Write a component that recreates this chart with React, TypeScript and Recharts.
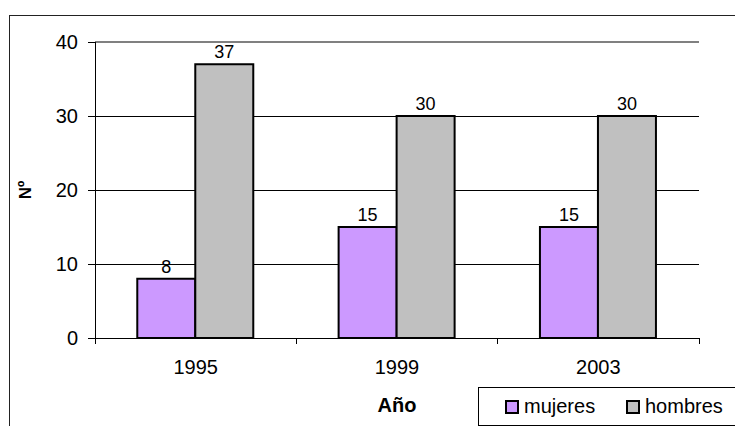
import React from 'react';
import {
  BarChart,
  Bar,
  XAxis,
  YAxis,
  CartesianGrid,
  ReferenceLine,
  LabelList,
  Legend,
  Label,
} from 'recharts';

const years = ['1995', '1999', '2003'];
const mujeres = [8, 15, 15];
const hombres = [37, 30, 30];
const yTicks = [0, 10, 20, 30, 40];

const series = [
  { key: 'mujeres', name: 'mujeres', color: '#CC99FF' },
  { key: 'hombres', name: 'hombres', color: '#C0C0C0' },
];

const data = years.map((year, i) => ({
  year,
  mujeres: mujeres[i],
  hombres: hombres[i],
}));

const FONT = '"Liberation Sans", Arial, sans-serif';

// Excel style category tick: label at band centre, tick marks at band edges
const CategoryTick = ({ x, y, payload, index, visibleTicksCount }: any) => {
  const half = payload.offset || 0;
  const isLast = index === visibleTicksCount - 1;
  return (
    <g>
      <line x1={x - half} x2={x - half} y1={y} y2={y + 6} stroke="#000" shapeRendering="crispEdges" />
      {isLast && (
        <line x1={x + half} x2={x + half} y1={y} y2={y + 6} stroke="#000" shapeRendering="crispEdges" />
      )}
      <text x={x} y={y + 22} dy="0.71em" textAnchor="middle" fill="#000" fontSize={20} fontFamily={FONT}>
        {payload.value}
      </text>
    </g>
  );
};

// keep legend items in series order (recharts sorts them by name otherwise)
const BoxLegend = ({ payload }: any) => {
  const items = [...(payload || [])].sort(
    (a: any, b: any) =>
      series.findIndex((s) => s.name === a.value) - series.findIndex((s) => s.name === b.value)
  );
  return (
    <div
      style={{
        width: '100%',
        height: '100%',
        boxSizing: 'border-box',
        border: '1px solid #000',
        display: 'flex',
        alignItems: 'center',
        paddingLeft: 26,
        fontFamily: FONT,
        fontSize: 20,
        color: '#000',
      }}
    >
      {items.map((entry: any, index: number) => (
        <div key={index} style={{ display: 'flex', alignItems: 'center', width: 121 }}>
          <div
            style={{
              width: 14,
              height: 14,
              boxSizing: 'border-box',
              border: '2px solid #000',
              backgroundColor: entry.color,
              marginRight: 5,
            }}
          />
          <span>{entry.value}</span>
        </div>
      ))}
    </div>
  );
};

const App: React.FC = () => {
  return (
    <div
      style={{
        position: 'absolute',
        left: 0,
        top: 0,
        width: 735,
        height: 426,
        overflow: 'hidden',
        background: '#fff',
        fontFamily: FONT,
      }}
    >
      {/* outer chart-area frame, runs off the picture on the right and bottom */}
      <div
        style={{
          position: 'absolute',
          left: 9,
          top: 15,
          width: 800,
          height: 500,
          border: '1px solid #222',
        }}
      />
      <div style={{ position: 'relative' }}>
        <BarChart
          width={735}
          height={426}
          data={data}
          margin={{ top: 42, right: 36, bottom: 0, left: 15 }}
          barCategoryGap="21%"
          barGap={0}
        >
          <CartesianGrid
            vertical={false}
            stroke="#000"
            strokeOpacity={1}
            shapeRendering="crispEdges"
          />
          <XAxis
            dataKey="year"
            tickLine={false}
            axisLine={{ stroke: '#000', shapeRendering: 'crispEdges' }}
            tickSize={0}
            tickMargin={0}
            height={88}
            interval={0}
            tick={<CategoryTick />}
          >
            <Label
              value="Año"
              position="insideBottom"
              offset={14}
              style={{ fontSize: 20, fontWeight: 'bold', fill: '#000', fontFamily: FONT }}
            />
          </XAxis>
          <YAxis
            domain={[0, 40]}
            ticks={yTicks}
            width={80}
            tickSize={7}
            tickMargin={10}
            tickLine={{ stroke: '#000', shapeRendering: 'crispEdges' }}
            axisLine={{ stroke: '#000', shapeRendering: 'crispEdges' }}
            tick={{ fill: '#000', fontSize: 20, fontFamily: FONT }}
          >
            <Label
              value="Nº"
              angle={-90}
              position="insideLeft"
              offset={10}
              style={{ fontSize: 17, fontWeight: 'bold', fill: '#000', fontFamily: FONT, textAnchor: 'middle' }}
            />
          </YAxis>
          <YAxis
            yAxisId="r"
            orientation="right"
            domain={[0, 40]}
            width={0}
            tick={false}
            tickLine={false}
            axisLine={{ stroke: '#808080', strokeWidth: 2 }}
          />
          <ReferenceLine y={40} stroke="#808080" strokeWidth={2} />
          {series.map((s) => (
            <Bar
              key={s.key}
              dataKey={s.key}
              name={s.name}
              fill={s.color}
              stroke="#000"
              strokeWidth={2}
              isAnimationActive={false}
            >
              <LabelList
                dataKey={s.key}
                position="top"
                offset={6}
                style={{ fill: '#000', fontSize: 18, fontFamily: FONT }}
              />
            </Bar>
          ))}
          <Legend
            layout="horizontal"
            verticalAlign="middle"
            content={<BoxLegend />}
            wrapperStyle={{ position: 'absolute', left: 478, top: 387, width: 300, height: 39 }}
          />
        </BarChart>
      </div>
    </div>
  );
};

export default App;
